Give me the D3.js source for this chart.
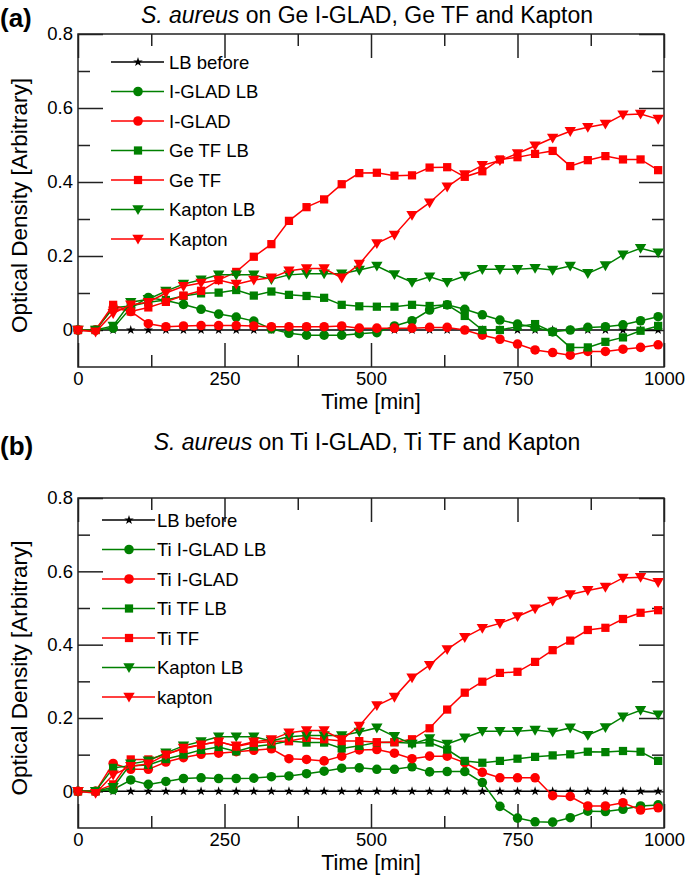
<!DOCTYPE html>
<html><head><meta charset="utf-8">
<script src="https://cdn.jsdelivr.net/npm/d3@7/dist/d3.min.js"></script>
<style>
body{margin:0;background:#fff}
text{font-family:"Liberation Sans",Arial,Helvetica,sans-serif;fill:#000}
</style>
</head><body>
<svg id="chart" width="685" height="880"></svg>
<script>
// ---------- data ----------
const timeMin = [0,30,60,90,120,150,180,210,240,270,300,330,360,390,420,450,480,510,540,570,600,630,660,690,720,750,780,810,840,870,900,930,960,990];
const xTickValues = [0,250,500,750,1000];
const xMinorTicks = [125,375,625,875];
const yTickValues = [0,0.2,0.4,0.6,0.8];
const yMinorTicks = [0.1,0.3,0.5,0.7];

const lbBefore = [0,0,0,0,0,0,0,0,0,0,0,0,0,0,0,0,0,0,0,0,0,0,0,0,0,0,0,0,0,0,0,0,0,0];

// panel (a)
const geIgladLB = [0,0,0.005,0.06,0.088,0.08,0.069,0.056,0.043,0.035,0.024,0.003,-0.009,-0.014,-0.014,-0.014,-0.01,-0.007,0.011,0.025,0.054,0.068,0.056,0.041,0.027,0.016,0.007,-0.005,0.0,0.007,0.009,0.014,0.025,0.036];
const geIglad = [0,0,0.06,0.05,0.017,0.009,0.011,0.012,0.012,0.012,0.011,0.009,0.009,0.009,0.009,0.011,0.005,0.005,0.005,0.005,0.007,0.007,0.0,-0.014,-0.025,-0.038,-0.054,-0.061,-0.068,-0.058,-0.058,-0.052,-0.047,-0.040];
const geTfLB = [0,0,0.06,0.065,0.075,0.081,0.092,0.099,0.101,0.108,0.093,0.104,0.095,0.092,0.087,0.068,0.064,0.063,0.063,0.068,0.065,0.068,0.038,0.0,0.0,0.009,0.016,-0.005,-0.047,-0.047,-0.032,-0.02,-0.002,0.011];
const geTf = [0,0,0.068,0.050,0.061,0.076,0.093,0.106,0.135,0.157,0.198,0.232,0.295,0.332,0.353,0.394,0.424,0.425,0.417,0.418,0.439,0.440,0.414,0.429,0.461,0.467,0.476,0.484,0.443,0.459,0.470,0.461,0.461,0.432];

// Kapton (same in both panels)
const kaptonLB = [0,0,0.011,0.075,0.083,0.105,0.124,0.136,0.149,0.149,0.149,0.137,0.149,0.152,0.152,0.152,0.162,0.173,0.150,0.129,0.144,0.129,0.146,0.164,0.164,0.164,0.167,0.162,0.173,0.153,0.174,0.203,0.221,0.209];
const kapton = [0,-0.005,0.045,0.068,0.075,0.100,0.118,0.127,0.135,0.124,0.135,0.141,0.160,0.166,0.166,0.141,0.178,0.234,0.257,0.310,0.344,0.387,0.420,0.445,0.458,0.477,0.498,0.519,0.537,0.548,0.557,0.582,0.584,0.570];

// panel (b)
const tiIgladLB = [0,0,0.005,0.031,0.019,0.027,0.035,0.037,0.035,0.035,0.036,0.040,0.042,0.048,0.055,0.063,0.064,0.060,0.060,0.067,0.053,0.054,0.054,0.024,-0.041,-0.073,-0.083,-0.084,-0.072,-0.054,-0.055,-0.049,-0.040,-0.037];
const tiIglad = [0,0,0.076,0.060,0.060,0.080,0.092,0.101,0.104,0.108,0.112,0.116,0.089,0.087,0.083,0.096,0.113,0.114,0.104,0.089,0.096,0.096,0.078,0.052,0.037,0.037,0.037,-0.012,-0.014,-0.040,-0.040,-0.031,-0.051,-0.045];
const tiTfLB = [0,0,0.064,0.070,0.072,0.088,0.100,0.113,0.121,0.109,0.122,0.128,0.137,0.133,0.133,0.117,0.124,0.133,0.134,0.131,0.133,0.114,0.083,0.078,0.083,0.089,0.094,0.098,0.101,0.108,0.107,0.110,0.108,0.083];
const tiTf = [0,0,0.019,0.087,0.087,0.101,0.116,0.127,0.136,0.122,0.132,0.136,0.137,0.146,0.142,0.137,0.137,0.134,0.134,0.142,0.172,0.223,0.269,0.299,0.323,0.326,0.353,0.385,0.411,0.440,0.446,0.470,0.487,0.494];

const legendA = ["LB before","I-GLAD LB","I-GLAD","Ge TF LB","Ge TF","Kapton LB","Kapton"];
const legendB = ["LB before","Ti I-GLAD LB","Ti I-GLAD","Ti TF LB","Ti TF","Kapton LB","kapton"];
const seriesColors = ["#000000","#008000","#ff0000","#008000","#ff0000","#008000","#ff0000"];
const seriesShapes = ["star","circle","circle","square","square","tri","tri"];

// ---------- drawing ----------
const svg = d3.select("#chart");
const x = d3.scaleLinear().domain([0,1000]).range([78,664]);

const panels = [
  {tag:"(a)", tagY:27, titleY:23, rest:" on Ge I-GLAD, Ge TF and Kapton",
   top:34, bottom:367,
   legX:[111,164,138,169], legY0:62,
   data:[lbBefore,geIgladLB,geIglad,geTfLB,geTf,kaptonLB,kapton], names:legendA},
  {tag:"(b)", tagY:455, titleY:450, rest:" on Ti I-GLAD, Ti TF and Kapton",
   top:498, bottom:828,
   legX:[102,155,129,157], legY0:520,
   data:[lbBefore,tiIgladLB,tiIglad,tiTfLB,tiTf,kaptonLB,kapton], names:legendB}
];

function symbolPath(shape){
  if(shape==="circle") return d3.symbol().type(d3.symbolCircle).size(72)();
  if(shape==="square") return d3.symbol().type(d3.symbolSquare).size(68)();
  if(shape==="tri") return d3.symbol().type(d3.symbolTriangle).size(56)();
  return d3.symbol().type(d3.symbolStar).size(28)();
}
function symTransform(shape,px,py){
  return shape==="tri" ? `translate(${px},${py-1}) rotate(180)` : `translate(${px},${py})`;
}

panels.forEach(p=>{
  const y = d3.scaleLinear().domain([-0.1,0.8]).range([p.bottom,p.top]);
  const g = svg.append("g");

  // tag and title
  g.append("text").attr("x",0).attr("y",p.tagY).attr("font-size",26).attr("font-weight","bold").text(p.tag);
  const t = g.append("text").attr("x",367).attr("y",p.titleY).attr("text-anchor","middle").attr("font-size",23);
  t.append("tspan").attr("font-style","italic").text("S. aureus");
  t.append("tspan").text(p.rest);

  // axes with inside ticks
  const axStyle = sel=>{sel.select(".domain").remove();
    sel.selectAll(".tick line").attr("stroke","#222").attr("stroke-width",1.5);
    sel.selectAll(".tick text").attr("font-size",18.5).attr("font-family","Liberation Sans, Arial, sans-serif").attr("fill","#000");};
  g.append("g").attr("transform",`translate(0,${p.bottom})`)
    .call(d3.axisBottom(x).tickValues(xTickValues).tickSize(-24).tickPadding(6).tickFormat(d3.format("d"))).call(axStyle)
    .selectAll(".tick text").attr("dy","0").attr("y",18);
  g.append("g").attr("transform",`translate(0,${p.bottom})`)
    .call(d3.axisBottom(x).tickValues(xMinorTicks).tickSize(-12).tickFormat("")).call(axStyle);
  g.append("g").attr("transform",`translate(0,${p.top})`)
    .call(d3.axisTop(x).tickValues(xTickValues).tickSize(-24).tickFormat("")).call(axStyle);
  g.append("g").attr("transform",`translate(0,${p.top})`)
    .call(d3.axisTop(x).tickValues(xMinorTicks).tickSize(-12).tickFormat("")).call(axStyle);
  g.append("g").attr("transform",`translate(78,0)`)
    .call(d3.axisLeft(y).tickValues(yTickValues).tickSize(-25).tickPadding(5).tickFormat(d=>d===0?"0":d.toFixed(1))).call(axStyle);
  g.append("g").attr("transform",`translate(78,0)`)
    .call(d3.axisLeft(y).tickValues(yMinorTicks).tickSize(-12).tickFormat("")).call(axStyle);
  g.append("g").attr("transform",`translate(664,0)`)
    .call(d3.axisRight(y).tickValues(yTickValues).tickSize(-25).tickFormat("")).call(axStyle);
  g.append("g").attr("transform",`translate(664,0)`)
    .call(d3.axisRight(y).tickValues(yMinorTicks).tickSize(-12).tickFormat("")).call(axStyle);

  g.append("rect").attr("x",78).attr("y",p.top).attr("width",664-78).attr("height",p.bottom-p.top)
    .attr("fill","none").attr("stroke","#222").attr("stroke-width",1.5);

  // axis labels
  g.append("text").attr("x",371).attr("y",p.bottom+42).attr("text-anchor","middle").attr("font-size",21.5).text("Time [min]");
  g.append("text").attr("transform",`translate(27,${(p.top+p.bottom)/2+5}) rotate(-90)`)
    .attr("text-anchor","middle").attr("font-size",22.5).text("Optical Density [Arbitrary]");

  // series
  const line = d3.line().x((d,i)=>x(timeMin[i])).y(d=>y(d));
  p.data.forEach((arr,k)=>{
    const col = seriesColors[k], shape = seriesShapes[k];
    const sg = g.append("g");
    sg.append("path").attr("d",line(arr)).attr("fill","none").attr("stroke",col).attr("stroke-width",1.5);
    sg.selectAll("path.m").data(arr).enter().append("path").attr("class","m")
      .attr("d",symbolPath(shape)).attr("fill",col)
      .attr("transform",(d,i)=>symTransform(shape,x(timeMin[i]),y(d)));
  });

  // legend
  p.names.forEach((nm,k)=>{
    const ly = p.legY0 + k*29.5;
    const col = seriesColors[k], shape = seriesShapes[k];
    g.append("line").attr("x1",p.legX[0]).attr("x2",p.legX[1]).attr("y1",ly).attr("y2",ly)
      .attr("stroke",col).attr("stroke-width",1.5);
    g.append("path").attr("d",symbolPath(shape)).attr("fill",col).attr("transform",symTransform(shape,p.legX[2],ly));
    g.append("text").attr("x",p.legX[3]).attr("y",ly+6.5).attr("font-size",18.5).text(nm);
  });
});
</script>
</body></html>
